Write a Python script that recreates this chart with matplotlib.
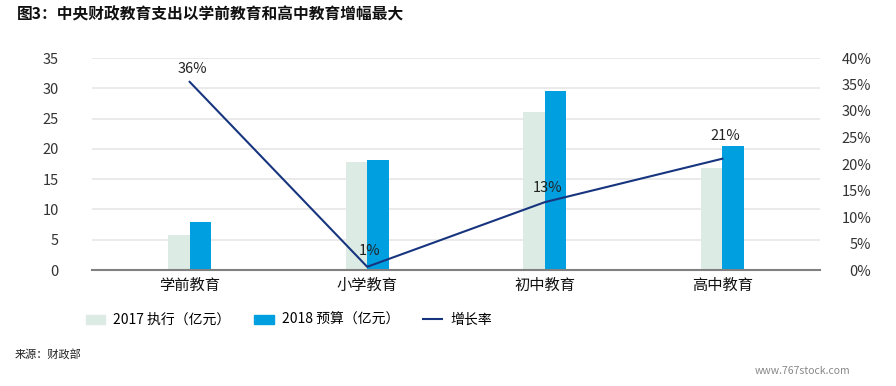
import matplotlib.pyplot as plt
import numpy as np
from matplotlib.patches import Patch
from matplotlib.lines import Line2D
from matplotlib.ticker import FuncFormatter

plt.rcParams['font.family'] = ['Noto Sans CJK SC', 'DejaVu Sans']

# data
categories = ['学前教育', '小学教育', '初中教育', '高中教育']
exec_2017 = [5.8, 17.9, 26.1, 16.8]
budget_2018 = [7.9, 18.1, 29.6, 20.5]
growth = [0.355, 0.006, 0.128, 0.21]
growth_labels = ['36%', '1%', '13%', '21%']

c2017 = '#dcebe3'
c2018 = '#009fe0'
cline = '#17357f'
tick_color = '#333333'

fig = plt.figure(figsize=(8.96, 3.86), dpi=100)
ax = fig.add_axes([92 / 896, 1 - 270 / 386, 728 / 896, 212 / 386])
x = np.arange(len(categories))
w = 0.12

ax.bar(x - w / 2, exec_2017, width=w, color=c2017, zorder=2)
ax.bar(x + w / 2, budget_2018, width=w, color=c2018, zorder=2)
ax.set_xlim(-0.55, 3.55)
ax.set_ylim(0, 35)
ax.set_yticks(range(0, 36, 5))
ax.grid(axis='y', color='#e6e6e6', linewidth=1.2, zorder=0)
ax.set_axisbelow(True)
for s in ['top', 'right', 'left']:
    ax.spines[s].set_visible(False)
ax.spines['bottom'].set_color('#808080')
ax.spines['bottom'].set_linewidth(1.5)
ax.set_xticks(x)
ax.set_xticklabels(categories, fontsize=11)
ax.tick_params(axis='x', length=0, pad=5, colors='#111111')
ax.tick_params(axis='y', length=0, pad=24, labelsize=10.5, colors=tick_color)

ax2 = ax.twinx()
ax2.plot(x, growth, color=cline, linewidth=1.5, zorder=5)
ax2.set_ylim(0, 0.40)
ax2.set_yticks(np.arange(0, 0.41, 0.05))
ax2.yaxis.set_major_formatter(FuncFormatter(lambda v, p: f'{v * 100:.0f}%'))
for s in ax2.spines.values():
    s.set_visible(False)
ax2.tick_params(axis='y', length=0, labelsize=10.5, colors=tick_color)
for lab in ax2.get_yticklabels():
    lab.set_horizontalalignment('right')
ax2.yaxis.set_tick_params(pad=37)

# label offsets (points above each point)
label_dy = [4, 6, 5, 11]
for xi, g, lab, dy in zip(x, growth, growth_labels, label_dy):
    ax2.annotate(lab, (xi, g), xytext=(2, dy), textcoords='offset points',
                 ha='center', va='bottom', fontsize=10.5, color='#222222', zorder=6)

handles = [Patch(color=c2017), Patch(color=c2018), Line2D([0], [0], color=cline, lw=1.5)]
labels = ['2017 执行（亿元）', '2018 预算（亿元）', '增长率']
fig.legend(handles, labels, loc='center left', bbox_to_anchor=(73 / 896, 1 - 320 / 386),
           ncol=3, frameon=False, fontsize=10, handlelength=1.4, handleheight=0.6,
           columnspacing=1.7, handletextpad=0.6)

fig.text(17 / 896, 1 - 14 / 386, '图3：中央财政教育支出以学前教育和高中教育增幅最大',
         fontsize=11.3, fontweight='bold', va='center', ha='left', color='#111111')
fig.text(15 / 896, 1 - 354 / 386, '来源：财政部', fontsize=8, va='center', ha='left', color='#222222')
fig.text(850 / 896, 1 - 371 / 386, 'www.767stock.com', fontsize=7.5, va='center', ha='right', color='#888888')

fig.savefig('out.png', dpi=100)
